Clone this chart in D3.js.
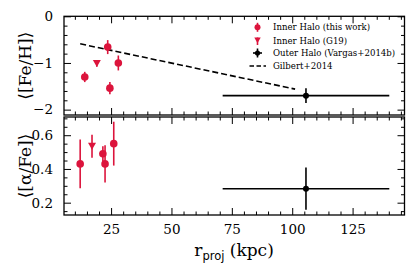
<!DOCTYPE html>
<meta charset="utf-8">
<script src="https://d3js.org/d3.v7.min.js"></script>
<style>
body { margin: 0; background: white; }
svg text { font-family: "DejaVu Serif", "Liberation Serif", "Noto Serif", serif; }
</style>
<div id="chart"></div>
<script>

// Inner halo (this work)
var inner_r_feh = [14.1, 23.6, 28.0, 24.5];
var inner_feh = [-1.30, -0.66, -1.00, -1.54];
var inner_feh_err = [0.11, 0.15, 0.16, 0.13];
var inner_r_alpha = [12.2, 21.6, 22.5, 26.1];
var inner_alpha = [0.43, 0.49, 0.43, 0.55];
var inner_alpha_err = [0.145, 0.045, 0.11, 0.13];

// Inner halo (G19)
var g19_r_feh = [19.1];
var g19_feh = [-1.01];
var g19_feh_err = [0.07];
var g19_r_alpha = [17.1];
var g19_alpha = [0.535];
var g19_alpha_err = [0.068];

// Outer halo (Vargas+2014b)
var outer_r = [105.7];
var outer_r_lo = [71.2];
var outer_r_hi = [140.2];
var outer_feh = [-1.70];
var outer_feh_err = [0.16];
var outer_alpha = [0.283];
var outer_alpha_err = [0.125];

// Gilbert+2014 gradient
var gilbert_r = [12.2, 101.2];
var gilbert_feh = [-0.59, -1.56];

var xTicks = [25, 50, 75, 100, 125];
var fehTicks = [0, -1, -2];
var alphaTicks = [0.2, 0.4, 0.6];

var red = "#dc143c";
var serif = '"DejaVu Serif", "Liberation Serif", "Noto Serif", serif';

var svg = d3.select("#chart").append("svg")
  .attr("width", 415)
  .attr("height", 277);

var left = 64, right = 404.5;
var top1 = 16.3, bot1 = 115, top2 = 117, bot2 = 215;

var x = d3.scaleLinear().domain([5.5, 146.5]).range([left, right]);
var y1 = d3.scaleLinear().domain([-2.115, 0]).range([bot1, top1]);
var y2 = d3.scaleLinear().domain([0.127, 0.708]).range([bot2, top2]);

var xMinor = d3.range(10, 146, 5).filter(function(d) { return d % 25 != 0; });

function frame(y, t, b, yMajor, yMinor, fmt, showX) {
  var g = svg.append("g");
  // major + minor ticks, inward, all four sides
  g.append("g").attr("transform", "translate(0," + b + ")")
    .call(d3.axisBottom(x).tickValues(xTicks).tickSize(-7).tickPadding(9)
      .tickFormat(showX ? d3.format("d") : ""));
  g.append("g").attr("transform", "translate(0," + b + ")")
    .call(d3.axisBottom(x).tickValues(xMinor).tickSize(-3.5).tickFormat(""));
  g.append("g").attr("transform", "translate(0," + t + ")")
    .call(d3.axisTop(x).tickValues(xTicks).tickSize(-7).tickFormat(""));
  g.append("g").attr("transform", "translate(0," + t + ")")
    .call(d3.axisTop(x).tickValues(xMinor).tickSize(-3.5).tickFormat(""));
  g.append("g").attr("transform", "translate(" + left + ",0)")
    .call(d3.axisLeft(y).tickValues(yMajor).tickSize(-7).tickPadding(11).tickFormat(fmt));
  g.append("g").attr("transform", "translate(" + left + ",0)")
    .call(d3.axisLeft(y).tickValues(yMinor).tickSize(-3.5).tickFormat(""));
  g.append("g").attr("transform", "translate(" + right + ",0)")
    .call(d3.axisRight(y).tickValues(yMajor).tickSize(-7).tickFormat(""));
  g.append("g").attr("transform", "translate(" + right + ",0)")
    .call(d3.axisRight(y).tickValues(yMinor).tickSize(-3.5).tickFormat(""));
  g.selectAll(".domain").remove();
  g.selectAll("g").attr("font-family", serif);
  g.selectAll("line").attr("stroke", "#000").attr("stroke-width", 1);
  g.selectAll("text").attr("font-size", 13.5).attr("fill", "#000");
  g.append("rect").attr("x", left).attr("y", t)
    .attr("width", right - left).attr("height", b - t)
    .attr("fill", "none").attr("stroke", "#000").attr("stroke-width", 1.3);
}

var fehMinor = d3.range(0, -2.11, -0.2).map(function(d) { return +d.toFixed(1); })
  .filter(function(d) { return d % 1 != 0; });
var alphaMinor = d3.range(0.15, 0.71, 0.05).map(function(d) { return +d.toFixed(2); })
  .filter(function(d) { return alphaTicks.indexOf(d) < 0; });

frame(y1, top1, bot1, fehTicks, fehMinor, function(d) { return d < 0 ? "\u2212" + (-d) : d; }, false);
frame(y2, top2, bot2, alphaTicks, alphaMinor, d3.format(".1f"), true);

function errbars(y, xs, ys, es, color, w) {
  svg.append("g").selectAll("line").data(xs).enter().append("line")
    .attr("x1", function(d) { return x(d); })
    .attr("x2", function(d) { return x(d); })
    .attr("y1", function(d, i) { return y(ys[i] - es[i]); })
    .attr("y2", function(d, i) { return y(ys[i] + es[i]); })
    .attr("stroke", color).attr("stroke-width", w);
}

function circles(y, xs, ys, color, r) {
  svg.append("g").selectAll("circle").data(xs).enter().append("circle")
    .attr("cx", function(d) { return x(d); })
    .attr("cy", function(d, i) { return y(ys[i]); })
    .attr("r", r).attr("fill", color);
}

function triangles(y, xs, ys, color) {
  svg.append("g").selectAll("path").data(xs).enter().append("path")
    .attr("transform", function(d, i) { return "translate(" + x(d) + "," + y(ys[i]) + ")"; })
    .attr("d", "M-4,-3.5L4,-3.5L0,3.5Z")
    .attr("fill", color);
}

// Gilbert line
svg.append("path")
  .datum(gilbert_r)
  .attr("d", d3.line().x(function(d) { return x(d); }).y(function(d, i) { return y1(gilbert_feh[i]); }))
  .attr("stroke", "#000").attr("stroke-width", 1.6).attr("stroke-dasharray", "6,3").attr("fill", "none");

// top panel points
errbars(y1, inner_r_feh, inner_feh, inner_feh_err, red, 1.6);
circles(y1, inner_r_feh, inner_feh, red, 3.8);
errbars(y1, g19_r_feh, g19_feh, g19_feh_err, red, 1.6);
triangles(y1, g19_r_feh, g19_feh, red);
errbars(y1, outer_r, outer_feh, outer_feh_err, "#000", 1.6);
svg.append("g").selectAll("line").data(outer_r).enter().append("line")
  .attr("x1", function(d, i) { return x(outer_r_lo[i]); })
  .attr("x2", function(d, i) { return x(outer_r_hi[i]); })
  .attr("y1", function(d, i) { return y1(outer_feh[i]); })
  .attr("y2", function(d, i) { return y1(outer_feh[i]); })
  .attr("stroke", "#000").attr("stroke-width", 1.6);
circles(y1, outer_r, outer_feh, "#000", 3);

// bottom panel points
errbars(y2, inner_r_alpha, inner_alpha, inner_alpha_err, red, 1.6);
circles(y2, inner_r_alpha, inner_alpha, red, 3.8);
errbars(y2, g19_r_alpha, g19_alpha, g19_alpha_err, red, 1.6);
triangles(y2, g19_r_alpha, g19_alpha, red);
errbars(y2, outer_r, outer_alpha, outer_alpha_err, "#000", 1.6);
svg.append("g").selectAll("line").data(outer_r).enter().append("line")
  .attr("x1", function(d, i) { return x(outer_r_lo[i]); })
  .attr("x2", function(d, i) { return x(outer_r_hi[i]); })
  .attr("y1", function(d, i) { return y2(outer_alpha[i]); })
  .attr("y2", function(d, i) { return y2(outer_alpha[i]); })
  .attr("stroke", "#000").attr("stroke-width", 1.6);
circles(y2, outer_r, outer_alpha, "#000", 3);

// legend
var lg = svg.append("g");
var lx = 257.5, ltx = 273;
var rows = [27.3, 40.5, 53, 66];
var labels = ["Inner Halo (this work)", "Inner Halo (G19)", "Outer Halo (Vargas+2014b)", "Gilbert+2014"];
lg.append("line").attr("x1", lx).attr("x2", lx).attr("y1", rows[0] - 4.5).attr("y2", rows[0] + 4.5)
  .attr("stroke", red).attr("stroke-width", 1.6);
lg.append("circle").attr("cx", lx).attr("cy", rows[0]).attr("r", 3).attr("fill", red);
lg.append("line").attr("x1", lx).attr("x2", lx).attr("y1", rows[1] - 3).attr("y2", rows[1] + 4.5)
  .attr("stroke", red).attr("stroke-width", 1.6);
lg.append("path").attr("transform", "translate(" + lx + "," + rows[1] + ")")
  .attr("d", "M-3.2,-3L3.2,-3L0,2.8Z").attr("fill", red);
lg.append("line").attr("x1", lx - 4.5).attr("x2", lx + 4.5).attr("y1", rows[2]).attr("y2", rows[2])
  .attr("stroke", "#000").attr("stroke-width", 1.6);
lg.append("line").attr("x1", lx).attr("x2", lx).attr("y1", rows[2] - 4.5).attr("y2", rows[2] + 4.5)
  .attr("stroke", "#000").attr("stroke-width", 1.6);
lg.append("circle").attr("cx", lx).attr("cy", rows[2]).attr("r", 2.6).attr("fill", "#000");
lg.append("line").attr("x1", 249.5).attr("x2", 266).attr("y1", rows[3]).attr("y2", rows[3])
  .attr("stroke", "#000").attr("stroke-width", 1.6).attr("stroke-dasharray", "4.5,2.5");
lg.selectAll("text").data(labels).enter().append("text")
  .attr("x", ltx).attr("y", function(d, i) { return rows[i]; })
  .attr("dy", "0.35em").attr("font-size", 8.6).attr("font-family", serif)
  .text(function(d) { return d; });

// axis labels
svg.append("text")
  .attr("transform", "translate(31," + ((top1 + bot1) / 2) + ") rotate(-90)")
  .attr("text-anchor", "middle").attr("font-size", 17).attr("font-family", serif)
  .text("\u27e8[Fe/H]\u27e9");
svg.append("text")
  .attr("transform", "translate(31," + ((top2 + bot2) / 2) + ") rotate(-90)")
  .attr("text-anchor", "middle").attr("font-size", 17).attr("font-family", serif)
  .text("\u27e8[\u03b1/Fe]\u27e9");

var xl = svg.append("text").attr("x", 234).attr("y", 256).attr("text-anchor", "middle")
  .attr("font-size", 17).attr("font-family", serif);
xl.append("tspan").text("r");
xl.append("tspan").attr("dy", 4).attr("font-size", 11.5).style("font-family", "DejaVu Sans").text("proj");
xl.append("tspan").attr("dy", -4).text(" (kpc)");

</script>
